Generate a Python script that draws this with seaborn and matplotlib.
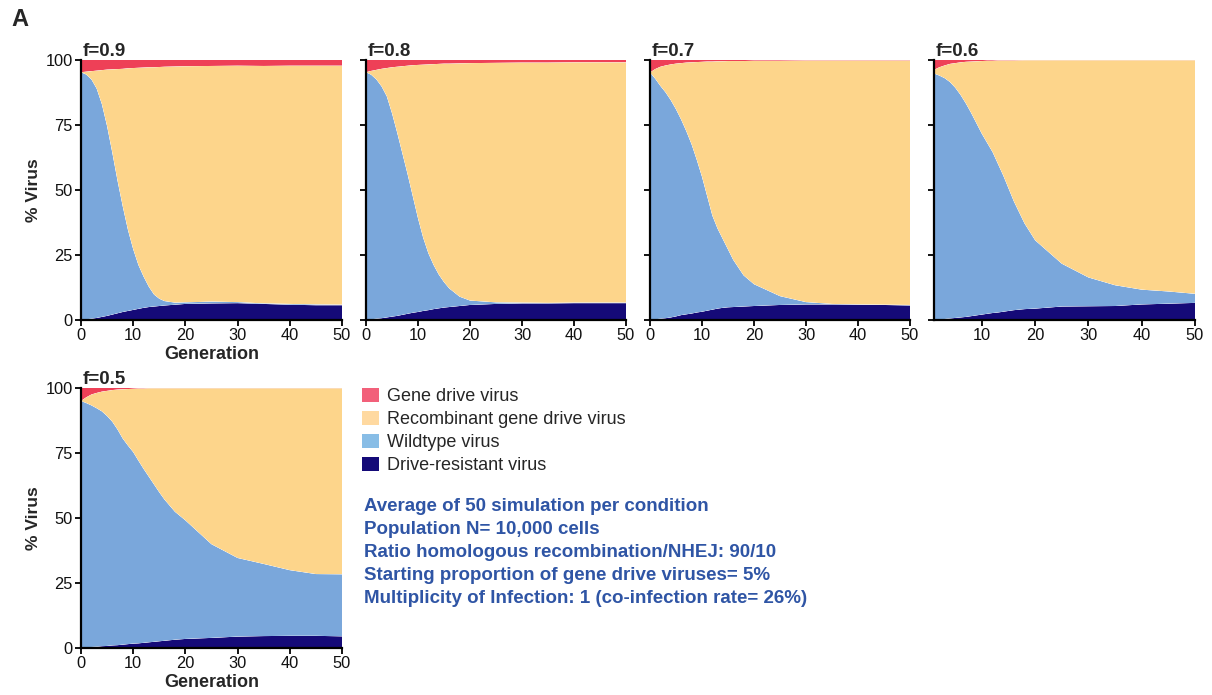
import matplotlib
matplotlib.use("Agg")
import matplotlib.pyplot as plt
from matplotlib.patches import Patch
import pandas as pd
import seaborn as sns
import seaborn.objects as so

# Generations at which the simulation averages are reported
generation = [0, 1, 2, 3, 4, 5, 6, 7, 8, 9, 10, 11, 12, 13, 14, 15, 16,
              18, 20, 25, 30, 35, 40, 45, 50]

# % of virus population per class, f = 0.9
f09_resistant = [0, 0.1, 0.3, 0.6, 1.0, 1.4, 1.9, 2.4, 2.9, 3.3, 3.7, 4.1, 4.5, 4.8, 5.0, 5.2, 5.4,
                 5.7, 6.0, 6.2, 6.3, 6.0, 5.7, 5.5, 5.5]
f09_wildtype = [95.3, 94.3, 92.2, 88.4, 82.0, 73.1, 62.4, 51.1, 40.7, 31.2, 23.4, 16.9, 12.0, 7.8, 4.6, 2.8, 1.7,
                0.8, 0.6, 0.7, 0.4, 0.2, 0.3, 0.3, 0.2]
f09_recombinant = [0, 1.1, 3.2, 6.9, 13.1, 21.8, 32.1, 43.0, 53.0, 62.3, 69.8, 76.0, 80.6, 84.6, 87.6, 89.3, 90.3,
                   91.0, 91.0, 90.8, 91.1, 91.5, 91.8, 92.0, 92.1]
f09_drive = [4.7, 4.5, 4.3, 4.1, 3.9, 3.7, 3.6, 3.5, 3.4, 3.2, 3.1, 3.0, 2.9, 2.8, 2.8, 2.7, 2.6,
             2.5, 2.4, 2.3, 2.2, 2.3, 2.2, 2.2, 2.2]

# f = 0.8
f08_resistant = [0, 0.1, 0.3, 0.5, 0.8, 1.1, 1.4, 1.8, 2.2, 2.6, 2.9, 3.3, 3.6, 4.0, 4.3, 4.6, 4.8,
                 5.2, 5.6, 6.0, 6.2, 6.2, 6.3, 6.3, 6.3]
f08_wildtype = [95.3, 94.2, 92.2, 89.3, 85.2, 78.4, 70.6, 62.2, 53.8, 44.9, 36.1, 28.2, 21.9, 17.0, 13.0, 9.8, 7.2,
                3.6, 1.7, 0.6, 0.3, 0.2, 0.2, 0.2, 0.2]
f08_recombinant = [0, 1.5, 3.7, 6.8, 10.9, 17.7, 25.4, 33.6, 41.8, 50.5, 59.1, 66.7, 72.8, 77.4, 81.2, 84.2, 86.6,
                   89.9, 91.5, 92.3, 92.5, 92.6, 92.6, 92.6, 92.6]
f08_drive = [4.7, 4.2, 3.8, 3.4, 3.1, 2.8, 2.6, 2.4, 2.2, 2.0, 1.9, 1.8, 1.7, 1.6, 1.5, 1.4, 1.4,
             1.3, 1.2, 1.1, 1.0, 1.0, 0.9, 0.9, 0.9]

# f = 0.7
f07_resistant = [0, 0.1, 0.3, 0.5, 0.8, 1.2, 1.7, 2.0, 2.3, 2.7, 3.0, 3.4, 3.8, 4.2, 4.5, 4.7, 4.8,
                 5.0, 5.2, 5.6, 5.8, 5.8, 5.7, 5.6, 5.4]
f07_wildtype = [95.2, 92.7, 89.7, 87.0, 83.7, 79.8, 75.3, 70.5, 65.2, 58.8, 52.0, 44.1, 36.2, 30.8, 26.5, 22.3, 18.2,
                12.0, 8.4, 3.4, 0.9, 0.2, 0.1, 0.1, 0.2]
f07_recombinant = [0, 3.7, 7.4, 10.4, 13.8, 17.6, 21.8, 26.5, 31.6, 37.7, 44.3, 51.9, 59.4, 64.5, 68.5, 72.6, 76.6,
                   82.6, 86.1, 90.7, 93.1, 93.8, 94.0, 94.1, 94.2]
f07_drive = [4.8, 3.5, 2.6, 2.1, 1.7, 1.4, 1.2, 1.0, 0.9, 0.8, 0.7, 0.6, 0.6, 0.5, 0.5, 0.4, 0.4,
             0.4, 0.3, 0.3, 0.2, 0.2, 0.2, 0.2, 0.2]

# f = 0.6
f06_resistant = [0, 0.1, 0.1, 0.2, 0.4, 0.6, 0.8, 1.0, 1.3, 1.6, 1.9, 2.2, 2.5, 2.7, 3.0, 3.3, 3.6,
                 4.0, 4.2, 5.0, 5.1, 5.2, 5.8, 6.1, 6.4]
f06_wildtype = [95.0, 94.7, 93.9, 92.8, 91.1, 88.7, 85.7, 82.2, 78.2, 73.9, 69.6, 65.8, 62.0, 57.3, 52.5, 47.2, 41.9,
                33.0, 26.3, 16.5, 11.1, 8.0, 5.7, 4.7, 3.5]
f06_recombinant = [0, 1.4, 3.2, 4.9, 7.0, 9.5, 12.6, 16.1, 19.9, 24.0, 28.1, 31.7, 35.2, 39.8, 44.3, 49.3, 54.3,
                   62.9, 69.4, 78.4, 83.7, 86.7, 88.4, 89.1, 90.0]
f06_drive = [5.0, 3.8, 2.8, 2.1, 1.5, 1.2, 0.9, 0.7, 0.6, 0.5, 0.4, 0.3, 0.3, 0.2, 0.2, 0.2, 0.2,
             0.1, 0.1, 0.1, 0.1, 0.1, 0.1, 0.1, 0.1]

# f = 0.5
f05_resistant = [0, 0.1, 0.2, 0.3, 0.5, 0.6, 0.8, 0.9, 1.1, 1.3, 1.5, 1.6, 1.8, 2.0, 2.2, 2.4, 2.6,
                 3.0, 3.3, 3.7, 4.2, 4.4, 4.5, 4.5, 4.3]
f05_wildtype = [95.0, 94.1, 93.1, 91.9, 90.5, 88.6, 86.2, 83.1, 79.4, 76.5, 73.8, 70.4, 67.0, 63.8, 60.6, 57.4, 54.4,
                49.3, 45.7, 36.1, 30.3, 27.8, 25.3, 23.8, 23.9]
f05_recombinant = [0, 2.2, 4.2, 5.9, 7.6, 9.7, 12.2, 15.4, 19.0, 21.8, 24.4, 27.8, 31.0, 34.1, 37.1, 40.1, 42.9,
                   47.6, 50.9, 60.1, 65.4, 67.7, 70.1, 71.6, 71.7]
f05_drive = [5.0, 3.6, 2.5, 1.9, 1.4, 1.1, 0.8, 0.6, 0.5, 0.4, 0.3, 0.2, 0.2, 0.1, 0.1, 0.1, 0.1,
             0.1, 0.1, 0.1, 0.1, 0.1, 0.1, 0.1, 0.1]

panel_titles = ["f=0.9", "f=0.8", "f=0.7", "f=0.6", "f=0.5"]
panel_series = [
    (f09_resistant, f09_wildtype, f09_recombinant, f09_drive),
    (f08_resistant, f08_wildtype, f08_recombinant, f08_drive),
    (f07_resistant, f07_wildtype, f07_recombinant, f07_drive),
    (f06_resistant, f06_wildtype, f06_recombinant, f06_drive),
    (f05_resistant, f05_wildtype, f05_recombinant, f05_drive),
]

# Stacking order, bottom to top
virus_classes = ["Drive-resistant virus", "Wildtype virus",
                 "Recombinant gene drive virus", "Gene drive virus"]
fill_colors = {
    "Drive-resistant virus": "#150A78",
    "Wildtype virus": "#7AA7DB",
    "Recombinant gene drive virus": "#FDD58B",
    "Gene drive virus": "#EE4057",
}
legend_order = ["Gene drive virus", "Recombinant gene drive virus",
                "Wildtype virus", "Drive-resistant virus"]
legend_colors = {
    "Gene drive virus": "#F2607A",
    "Recombinant gene drive virus": "#FFD9A0",
    "Wildtype virus": "#88BDE6",
    "Drive-resistant virus": "#140A78",
}

notes = [
    "Average of 50 simulation per condition",
    "Population N= 10,000 cells",
    "Ratio homologous recombination/NHEJ: 90/10",
    "Starting proportion of gene drive viruses= 5%",
    "Multiplicity of Infection: 1 (co-infection rate= 26%)",
]

sns.set_theme(style="ticks")
plt.rcParams["font.family"] = ["Liberation Sans", "DejaVu Sans"]
so.Plot.config.theme.update(sns.axes_style("ticks"))
so.Plot.config.theme.update({"font.family": ["Liberation Sans", "DejaVu Sans"]})

W, H = 1212, 695
fig = plt.figure(figsize=(W / 100, H / 100), dpi=100)

# Axes boxes in pixels: left, top, right, bottom
boxes = [
    (81, 60, 342, 319.5),
    (366, 60, 626, 319.5),
    (650, 60, 910, 319.5),
    (934, 60, 1195, 319.5),
    (81, 388, 342, 647.5),
]


def long_frame(series):
    rows = []
    for i, g in enumerate(generation):
        for name, values in zip(virus_classes, series):
            rows.append({"generation": g, "percent": values[i], "virus": name})
    return pd.DataFrame(rows)


for idx, (title, series, box) in enumerate(zip(panel_titles, panel_series, boxes)):
    l, t, r, b = box
    ax = fig.add_axes([l / W, 1 - b / H, (r - l) / W, (b - t) / H])
    df = long_frame(series)
    (
        so.Plot(df, x="generation", y="percent", color="virus")
        .add(so.Area(alpha=1, edgewidth=0), so.Stack())
        .scale(color=so.Nominal(fill_colors, order=virus_classes))
        .on(ax)
        .plot()
    )
    fig.legends.clear()

    ax.set_facecolor("white")
    ax.grid(False)
    ax.set_ylim(0, 100)
    ax.set_yticks([0, 25, 50, 75, 100])
    if idx == 3:
        ax.set_xlim(1, 50)
        ax.set_xticks([10, 20, 30, 40, 50])
    else:
        ax.set_xlim(0, 50)
        ax.set_xticks([0, 10, 20, 30, 40, 50])
    for side in ("top", "right"):
        ax.spines[side].set_visible(False)
    for side in ("left", "bottom"):
        ax.spines[side].set_visible(True)
        ax.spines[side].set_color("black")
        ax.spines[side].set_linewidth(1.6)
    ax.tick_params(axis="both", direction="out", length=4, width=1.3,
                   color="black", labelcolor="#111111", labelsize=11.8, pad=2)
    if idx in (0, 4):
        ax.set_ylabel("% Virus", fontsize=12.5, fontweight="bold", labelpad=3)
        ax.set_xlabel("Generation", fontsize=13, fontweight="bold", labelpad=2)
    else:
        ax.set_ylabel("")
        ax.set_xlabel("")
        ax.tick_params(axis="y", labelleft=False)
    ax.set_title(title, loc="left", fontsize=13.5, fontweight="bold", pad=1, x=0.005)
    ax.set_zorder(1)

# Panel letter
fig.text(11 / W, 1 - 20 / H, "A", fontsize=17, fontweight="bold", va="center", ha="left")

# Legend
handles = [Patch(facecolor=legend_colors[n], edgecolor="none") for n in legend_order]
fig.legend(handles, legend_order, loc="upper left",
           bbox_to_anchor=(362 / W, 1 - 388 / H), frameon=False, fontsize=13,
           handlelength=0.95, handleheight=0.8, handletextpad=0.45,
           labelspacing=0.32, borderpad=0, borderaxespad=0)

# Simulation settings
fig.text(364 / W, 1 - 498 / H, "\n".join(notes), fontsize=13.5, fontweight="bold",
         color="#2F55A5", va="top", ha="left", linespacing=1.46)

fig.savefig("out.png", dpi=100)
